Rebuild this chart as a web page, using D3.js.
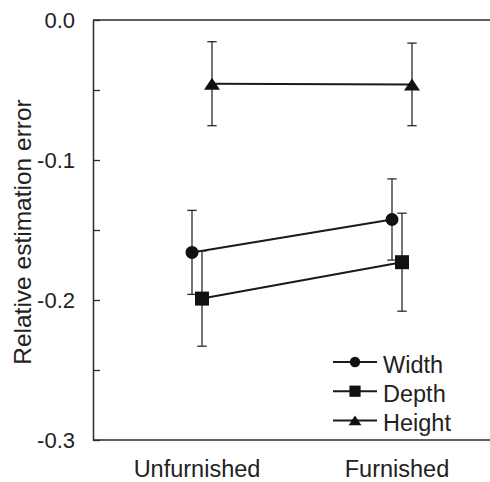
<!DOCTYPE html>
<html>
<head>
<meta charset="utf-8">
<script src="https://cdn.jsdelivr.net/npm/d3@7"></script>
<style>
  body { margin: 0; background: #fff; }
  text { font-family: Arial, "Liberation Sans", sans-serif; fill: #222; }
</style>
</head>
<body>
<svg id="chart" width="490" height="482"></svg>
<script>
  // data
  const conditions = ['Unfurnished', 'Furnished'];
  const seriesNames = ['Width', 'Depth', 'Height'];
  const widthMean = [-0.166, -0.1425];
  const widthErr = [0.030, 0.029];
  const depthMean = [-0.199, -0.173];
  const depthErr = [0.034, 0.035];
  const heightMean = [-0.0455, -0.046];
  const heightErr = [0.030, 0.0295];
  const yTicks = [0, -0.1, -0.2, -0.3];
  const yMinorTicks = [-0.05, -0.15, -0.25];

  const series = [
    { name: seriesNames[0], mean: widthMean, err: widthErr, shape: 'circle', offset: -10 },
    { name: seriesNames[1], mean: depthMean, err: depthErr, shape: 'square', offset: 0 },
    { name: seriesNames[2], mean: heightMean, err: heightErr, shape: 'triangle', offset: 10 }
  ];

  const svg = d3.select('#chart');
  const plotLeft = 93, plotRight = 490, plotTop = 20, plotBottom = 440;
  const ink = '#2b2b2b';

  const x = d3.scalePoint().domain(conditions).range([202, 402]);
  const y = d3.scaleLinear().domain([-0.3, 0]).range([plotBottom, plotTop]);

  // frame: left axis, top and bottom lines
  svg.append('line').attr('x1', plotLeft).attr('x2', plotRight).attr('y1', plotTop).attr('y2', plotTop)
    .attr('stroke', ink).attr('stroke-width', 1.5);
  svg.append('line').attr('x1', plotLeft).attr('x2', plotRight).attr('y1', plotBottom).attr('y2', plotBottom)
    .attr('stroke', ink).attr('stroke-width', 1.5);

  const yAxis = svg.append('g').attr('transform', `translate(${plotLeft},0)`)
    .call(d3.axisRight(y).tickValues(yTicks.concat(yMinorTicks)).tickSize(7).tickSizeOuter(0).tickFormat(''));
  yAxis.select('.domain').attr('stroke', ink).attr('stroke-width', 1.5);
  yAxis.selectAll('.tick line').attr('stroke', ink).attr('stroke-width', 1.3);

  // plain hyphen for the minus sign, as in the original
  const fmt = d => d3.format('.1f')(d).replace('\u2212', '-');

  svg.selectAll('.ylab')
    .data(yTicks)
    .enter().append('text')
    .attr('class', 'ylab')
    .attr('x', 75)
    .attr('y', d => y(d))
    .attr('dy', '0.36em')
    .attr('text-anchor', 'end')
    .attr('font-size', '22px')
    .text(fmt);

  svg.append('text')
    .attr('transform', `translate(31,${(plotTop + plotBottom) / 2 + 2}) rotate(-90)`)
    .attr('text-anchor', 'middle')
    .attr('font-size', '24.5px')
    .text('Relative estimation error');

  svg.selectAll('.xlab')
    .data(conditions)
    .enter().append('text')
    .attr('class', 'xlab')
    .attr('x', d => x(d) - 5)
    .attr('y', 477)
    .attr('text-anchor', 'middle')
    .attr('font-size', '23.5px')
    .text(d => d);

  function drawMarker(g, shape, cx, cy, s) {
    if (shape === 'circle') {
      g.append('circle').attr('cx', cx).attr('cy', cy).attr('r', 6.5 * s).attr('fill', '#111');
    } else if (shape === 'square') {
      const h = 7 * s;
      g.append('rect').attr('x', cx - h).attr('y', cy - h).attr('width', 2 * h).attr('height', 2 * h).attr('fill', '#111');
    } else {
      const w = 8 * s, hh = 12 * s;
      g.append('path')
        .attr('d', `M${cx - w},${cy + hh / 2}L${cx + w},${cy + hh / 2}L${cx},${cy - hh / 2}Z`)
        .attr('fill', '#111');
    }
  }

  series.forEach(s => {
    const g = svg.append('g');
    const pts = conditions.map((c, i) => ({ px: x(c) + s.offset, m: s.mean[i], e: s.err[i] }));

    // error bars
    pts.forEach(p => {
      g.append('line').attr('x1', p.px).attr('x2', p.px)
        .attr('y1', y(p.m + p.e)).attr('y2', y(p.m - p.e))
        .attr('stroke', ink).attr('stroke-width', 1.3);
      [p.m + p.e, p.m - p.e].forEach(v => {
        g.append('line').attr('x1', p.px - 4.7).attr('x2', p.px + 4.7)
          .attr('y1', y(v)).attr('y2', y(v))
          .attr('stroke', ink).attr('stroke-width', 1.3);
      });
    });

    g.append('path')
      .datum(pts)
      .attr('d', d3.line().x(p => p.px).y(p => y(p.m)))
      .attr('fill', 'none').attr('stroke', '#1a1a1a').attr('stroke-width', 2);

    pts.forEach(p => drawMarker(g, s.shape, p.px, y(p.m), 1));
  });

  // legend
  const legend = svg.append('g');
  series.forEach((s, i) => {
    const ly = 362 + i * 29.2;
    legend.append('line').attr('x1', 333).attr('x2', 377).attr('y1', ly).attr('y2', ly)
      .attr('stroke', '#1a1a1a').attr('stroke-width', 2);
    drawMarker(legend, s.shape, 355, ly, 0.8);
    legend.append('text').attr('x', 383).attr('y', ly + 11)
      .attr('font-size', '23.5px').text(s.name);
  });
</script>
</body>
</html>
